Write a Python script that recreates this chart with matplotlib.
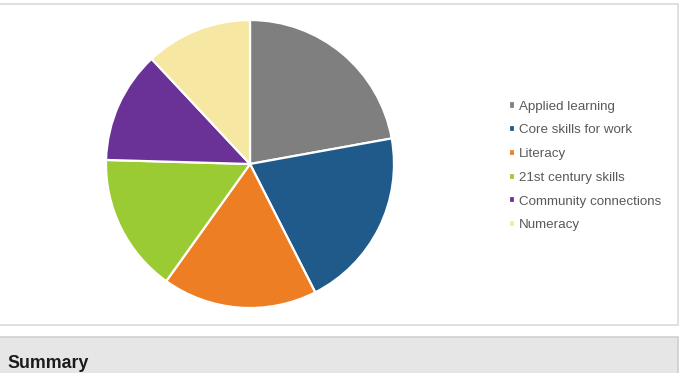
import matplotlib as mpl
mpl.use('Agg')
import matplotlib.pyplot as plt
from matplotlib.patches import Rectangle

categories = ['Applied learning', 'Core skills for work', 'Literacy',
              '21st century skills', 'Community connections', 'Numeracy']
counts = [37, 34, 29, 26, 21, 20]
colours = ['#7f7f7f', '#1f5a8b', '#ee7e23', '#9bcb33', '#6a3297', '#f6e8a2']

W, H = 681, 373
plt.rcParams['font.family'] = ['Liberation Sans', 'DejaVu Sans']
fig = plt.figure(figsize=(W / 100, H / 100), dpi=100)


def px(x0, y0, w, h):
    # pixel box (top-left origin) -> figure fraction
    return [x0 / W, 1 - (y0 + h) / H, w / W, h / H]


# chart frame and summary bar
b = px(-2, 4, 679.5, 320.5)
fig.patches.append(Rectangle((b[0], b[1]), b[2], b[3], transform=fig.transFigure,
                             facecolor='white', edgecolor='#dadada', lw=1.2, zorder=-5))
s = px(-2, 337.5, 679.5, 40)
fig.patches.append(Rectangle((s[0], s[1]), s[2], s[3], transform=fig.transFigure,
                             facecolor='#e6e6e6', edgecolor='#cfcfcf', lw=1.2, zorder=-5))
fig.text(7 / W, 1 - 368 / H, 'Summary', fontsize=12.8, fontweight='bold',
         color='#1a1a1a', va='baseline', ha='left')

# pie
cx, cy, r = 250, 164, 144
ax = fig.add_axes(px(cx - r, cy - r, 2 * r, 2 * r))
ax.set_zorder(2)
wedges, _ = ax.pie(counts, colors=colours, startangle=90, counterclock=False,
                   radius=1, wedgeprops=dict(edgecolor='white', linewidth=1.6))
ax.set_xlim(-1.0, 1.0)
ax.set_ylim(-1.0, 1.0)
ax.set_aspect('equal')
ax.axis('off')

# legend
leg = fig.legend(wedges, categories, loc='upper left',
                 bbox_to_anchor=(502 / W, 1 - 94 / H), frameon=False,
                 fontsize=9.6, handlelength=0.45, handleheight=0.45,
                 handletextpad=0.3, labelspacing=0.88, borderpad=0)
for t in leg.get_texts():
    t.set_color('#595959')

fig.savefig('out.png', dpi=100)
